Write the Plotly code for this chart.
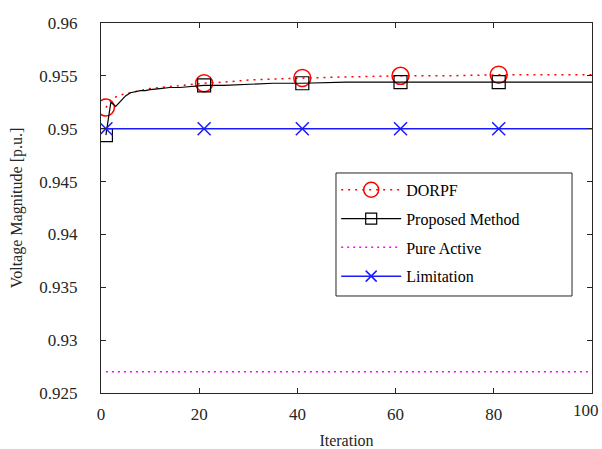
import plotly.graph_objects as go

# Iteration samples and voltage magnitudes [p.u.]
iterations = [1, 2, 3, 4, 5, 6, 7, 8, 9, 10, 12, 14, 16, 18, 21, 25, 30, 35,
              41, 50, 61, 70, 81, 90, 100]
dorpf = [0.9520, 0.9527, 0.9530, 0.9532, 0.9533, 0.9534, 0.9535, 0.9536,
         0.9537, 0.9538, 0.9539, 0.9540, 0.9541, 0.9542, 0.9543, 0.9544,
         0.9546, 0.9547, 0.9548, 0.9549, 0.9550, 0.9550, 0.9551, 0.9551,
         0.9551]
proposed = [0.9494, 0.9525, 0.9521, 0.9526, 0.9531, 0.9534, 0.9535, 0.9536,
            0.9536, 0.9537, 0.9538, 0.9539, 0.9539, 0.9540, 0.9541, 0.9541,
            0.9542, 0.9543, 0.9543, 0.9544, 0.9544, 0.9544, 0.9544, 0.9544,
            0.9544]
pure_active = [0.9270] * len(iterations)
limitation = [0.9500] * len(iterations)

marker_iters = [1, 21, 41, 61, 81]
x_ticks = [0, 20, 40, 60, 80, 100]
x_tick_text = ["0", "20", "40", "60", "80", "100"]
y_ticks = [0.925, 0.93, 0.935, 0.94, 0.945, 0.95, 0.955, 0.96]
y_tick_text = ["0.925", "0.93", "0.935", "0.94", "0.945", "0.95", "0.955", "0.96"]

FONT = "Liberation Serif, Times New Roman, serif"
AXIS_COLOR = "#262626"

series = [
    dict(name="DORPF", y=dorpf, color="#ff0000", dash="2px,5px", width=1.5,
         symbol="circle-open", size=17, mwidth=1.5),
    dict(name="Proposed Method", y=proposed, color="#000000", dash="solid", width=1.2,
         symbol="square-open", size=13, mwidth=1.2),
    dict(name="Pure Active", y=pure_active, color="#ff00ff", dash="2px,4px", width=1.5,
         symbol=None, size=0, mwidth=0),
    dict(name="Limitation", y=limitation, color="#1a1aff", dash="solid", width=1.5,
         symbol="x-thin-open", size=13, mwidth=1.5),
]

fig = go.Figure()
for s in series:
    # continuous line
    fig.add_trace(go.Scatter(
        x=iterations, y=s["y"], mode="lines", showlegend=False, hoverinfo="skip",
        line=dict(color=s["color"], dash=s["dash"], width=s["width"]),
    ))
    # sparse markers every 20 iterations
    if s["symbol"]:
        mx = [it for it in iterations if it in marker_iters]
        my = [v for it, v in zip(iterations, s["y"]) if it in marker_iters]
        fig.add_trace(go.Scatter(
            x=mx, y=my, mode="markers", showlegend=False,
            marker=dict(symbol=s["symbol"], size=s["size"], color=s["color"],
                        line=dict(color=s["color"], width=s["mwidth"])),
        ))
    # legend entry
    legend_trace = go.Scatter(
        x=[None], y=[None], name=s["name"],
        mode="lines+markers" if s["symbol"] else "lines",
        line=dict(color=s["color"], dash=s["dash"], width=s["width"]),
        legendgroup=s["name"],
    )
    if s["symbol"]:
        legend_trace.marker = dict(symbol=s["symbol"], size=s["size"] - 2, color=s["color"],
                                   line=dict(color=s["color"], width=s["mwidth"]))
    fig.add_trace(legend_trace)

axis_common = dict(
    showline=True, linecolor=AXIS_COLOR, linewidth=1, mirror="ticks",
    ticks="inside", ticklen=5, tickcolor=AXIS_COLOR, tickwidth=1,
    showgrid=False, zeroline=False, automargin=False,
    tickfont=dict(family=FONT, size=17, color="#262626"),
)

# legend frame drawn as a paper-space rectangle
fig.add_shape(type="rect", xref="paper", yref="paper",
              x0=0.4786, x1=0.9593, y0=0.2622, y1=0.5946,
              line=dict(color=AXIS_COLOR, width=1), fillcolor="white", layer="below")

# the last x tick label is nudged inward so it stays inside the page
fig.add_annotation(x=x_ticks[-1], xref="x", y=0, yref="paper", text=x_tick_text[-1],
                   showarrow=False, xanchor="center", yanchor="top",
                   xshift=-6, yshift=-6,
                   font=dict(family=FONT, size=17, color="#262626"))

fig.update_layout(
    width=602, height=449,
    margin=dict(l=101, r=10, t=23, b=56),
    paper_bgcolor="white", plot_bgcolor="white",
    font=dict(family=FONT, size=16, color="#262626"),
    xaxis=dict(range=[0, 100], tickvals=x_ticks,
               ticktext=x_tick_text[:-1] + [""],
               ticklabelstandoff=6,
               title=dict(text="Iteration", font=dict(family=FONT, size=16), standoff=16),
               **axis_common),
    yaxis=dict(range=[0.925, 0.96], tickvals=y_ticks, ticktext=y_tick_text,
               ticklabelstandoff=19,
               title=dict(text="Voltage Magnitude [p.u.]", font=dict(family=FONT, size=16),
                          standoff=12),
               **axis_common),
    legend=dict(
        x=0.479, y=0.595, xanchor="left", yanchor="top",
        bgcolor="rgba(0,0,0,0)", borderwidth=0,
        font=dict(family=FONT, size=16, color="#000000"),
        itemwidth=60, tracegroupgap=5,
    ),
)

fig.write_html("out.html")
